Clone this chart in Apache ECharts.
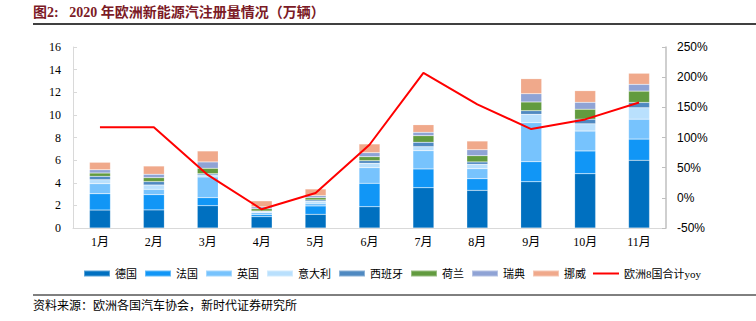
<!DOCTYPE html>
<html><head><meta charset="utf-8">
<script src="https://cdn.jsdelivr.net/npm/echarts@6/dist/echarts.min.js"></script>
<style>html,body{margin:0;padding:0;background:#fff}#c{width:756px;height:321px}</style>
</head><body><div id="c"></div>
<script>
const months = ['1月','2月','3月','4月','5月','6月','7月','8月','9月','10月','11月'];
const germany     = [1.59,1.60,1.97,1.00,1.21,1.88,3.56,3.33,4.09,4.80,5.99];
const france      = [1.44,1.35,0.71,0.18,0.74,2.07,1.66,1.03,1.77,2.01,1.87];
const uk          = [0.89,0.47,1.83,0.17,0.23,1.38,1.61,0.88,3.45,1.76,1.76];
const italy       = [0.35,0.38,0.18,0.09,0.18,0.39,0.36,0.39,0.74,0.64,1.01];
const spain       = [0.30,0.30,0.11,0.06,0.12,0.23,0.39,0.21,0.32,0.41,0.47];
const netherlands = [0.29,0.35,0.48,0.20,0.20,0.35,0.58,0.55,0.77,0.88,1.00];
const sweden      = [0.29,0.30,0.56,0.17,0.18,0.36,0.30,0.53,0.73,0.61,0.60];
const norway      = [0.66,0.73,0.97,0.53,0.59,0.77,0.67,0.77,1.33,1.03,0.98];
const yoy         = [1.17,1.17,0.38,-0.19,0.08,0.88,2.07,1.55,1.14,1.30,1.58];
const leftTicks = {min:0, max:16, interval:2};
const rightTicks = {min:-0.5, max:2.5, interval:0.5};

const serif = "'Liberation Serif','Noto Sans CJK SC',serif";
const barSeries = [
  ['德国', germany, '#0070c0'],
  ['法国', france, '#1196f6'],
  ['英国', uk, '#77c3fd'],
  ['意大利', italy, '#b9e0fd'],
  ['西班牙', spain, '#4f89c1'],
  ['荷兰', netherlands, '#629b3f'],
  ['瑞典', sweden, '#8fa3d5'],
  ['挪威', norway, '#f0a98b']
].map(([n,d,c]) => ({
  name:n, type:'bar', stack:'total', data:d, barWidth:21,
  itemStyle:{color:c, borderColor:'rgba(255,255,255,0.35)', borderWidth:0.5},
  emphasis:{disabled:true}
}));

const chart = echarts.init(document.getElementById('c'), null, {renderer:'svg'});
chart.setOption({
  animation:false,
  grid:{left:73, right:90, top:47, bottom:93},
  legend:{
    left:78, top:263, itemWidth:26, itemHeight:6, itemGap:7, icon:'rect',
    textStyle:{fontFamily:serif, fontSize:11, color:'#000'},
    data:['德国','法国','英国','意大利','西班牙','荷兰','瑞典','挪威',
      {name:'欧洲8国合计yoy', icon:'path://M0,0 L26,0 L26,2 L0,2 Z', itemStyle:{color:'#ff0000'}}]
  },
  xAxis:{
    type:'category', data:months,
    axisLine:{lineStyle:{color:'#d9d9d9', width:1}},
    axisTick:{show:false},
    axisLabel:{fontFamily:serif, fontSize:12, color:'#000', margin:8}
  },
  yAxis:[{
    type:'value', min:leftTicks.min, max:leftTicks.max, interval:leftTicks.interval,
    splitLine:{show:false},
    axisLine:{show:true, lineStyle:{color:'#d9d9d9'}},
    axisTick:{show:true, inside:true, length:4, lineStyle:{color:'#d9d9d9'}},
    axisLabel:{fontFamily:serif, fontSize:12, color:'#000', margin:12}
  },{
    type:'value', min:rightTicks.min, max:rightTicks.max, interval:rightTicks.interval,
    position:'right',
    splitLine:{show:false},
    axisLine:{show:true, lineStyle:{color:'#bfbfbf', width:1.5}},
    axisTick:{show:true, inside:true, length:4, lineStyle:{color:'#bfbfbf'}},
    axisLabel:{fontFamily:"'Liberation Sans','Noto Sans',sans-serif", fontSize:12, color:'#000', margin:11,
      formatter:v => Math.round(v*100)+'%'}
  }],
  series:[...barSeries, {
    name:'欧洲8国合计yoy', type:'line', yAxisIndex:1, data:yoy,
    symbol:'none', lineStyle:{color:'#ff0000', width:2}, itemStyle:{color:'#ff0000'},
    emphasis:{disabled:true}
  }],
  graphic:[
    {type:'text', left:33, top:5, style:{text:'图2:   2020 年欧洲新能源汽注册量情况（万辆）',
      font:"bold 14px 'Liberation Serif','Noto Sans CJK SC',serif", fill:'#7b1a26'}},
    {type:'line', shape:{x1:33, y1:24, x2:756, y2:24}, style:{stroke:'#000', lineWidth:1.5}},
    {type:'line', shape:{x1:33, y1:295, x2:756, y2:295}, style:{stroke:'#000', lineWidth:1}},
    {type:'text', left:33, top:300, style:{text:'资料来源：欧洲各国汽车协会，新时代证券研究所',
      font:"12px 'Liberation Serif','Noto Sans CJK SC',serif", fill:'#000'}}
  ]
});
</script></body></html>
